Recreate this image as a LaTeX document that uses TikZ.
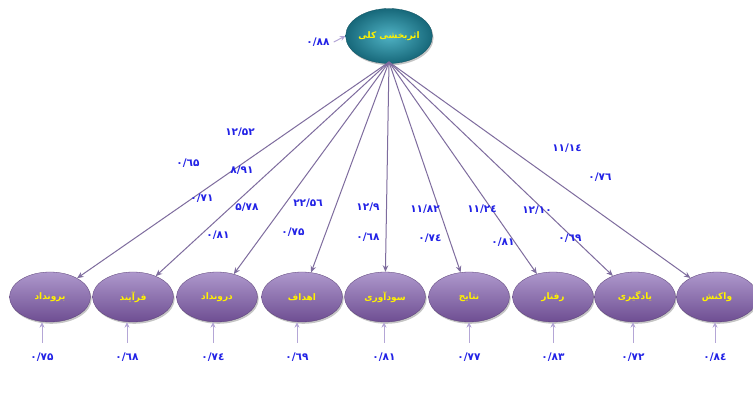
\documentclass[tikz,border=0pt]{standalone}
\usepackage{fontspec}
\TeXXeTstate=1
\newfontfamily\arabicfont[Script=Arabic]{DejaVu Sans}
\newfontfamily\digitfont{DejaVu Sans}
\usetikzlibrary{shapes.geometric,shadows,arrows.meta}
\definecolor{lineC}{HTML}{7E6C9E}
\definecolor{errC}{HTML}{B4A6D6}
\definecolor{numC}{HTML}{2222E6}
\definecolor{purTop}{HTML}{AE98CC}
\definecolor{purBot}{HTML}{6E4E92}
\definecolor{tealIn}{HTML}{4FB2C4}
\definecolor{tealOut}{HTML}{17687A}
\tikzset{
  latent/.style={ellipse, minimum width=81pt, minimum height=50pt, inner sep=0pt,
    top color=purTop, bottom color=purBot, draw=purBot!80!black, line width=0.3pt,
    drop shadow={shadow xshift=1.2pt, shadow yshift=-1.8pt, opacity=0.45},
    font=\arabicfont\bfseries\fontsize{9}{10}\selectfont, text=yellow},
  toplat/.style={ellipse, minimum width=80pt, minimum height=55pt, inner sep=0pt,
    inner color=tealIn, outer color=tealOut, draw=tealOut!80!black, line width=0.3pt,
    drop shadow={shadow xshift=1.2pt, shadow yshift=-1.8pt, opacity=0.45},
    font=\arabicfont\bfseries\fontsize{9}{10}\selectfont, text=yellow},
  num/.style={font=\digitfont\bfseries\fontsize{10.5}{11}\selectfont, text=numC, inner sep=0pt},
  path/.style={draw=lineC, line width=1pt, -{Stealth[length=6.5pt,width=5.5pt]}},
  err/.style={draw=errC, line width=1pt, -{Stealth[length=5.5pt,width=5pt]}}
}
\begin{document}
\begin{tikzpicture}[x=1pt,y=-1pt]
\useasboundingbox (0,0) rectangle (753,403);
\fill[white] (0,0) rectangle (753,403);
% top latent
\node[toplat] (top) at (389,36) {\beginR اثربخشی کلی\endR};
\coordinate (topb) at (389,62);
% bottom latents
\node[latent] (n1) at (50,297) {\beginR برونداد\endR};
\node[latent] (n2) at (133,297) {\beginR فرآیند\endR};
\node[latent] (n3) at (217,297) {\beginR درونداد\endR};
\node[latent] (n4) at (302,297) {\beginR اهداف\endR};
\node[latent] (n5) at (385,297) {\beginR سودآوری\endR};
\node[latent] (n6) at (469,297) {\beginR نتایج\endR};
\node[latent] (n7) at (553,297) {\beginR رفتار\endR};
\node[latent] (n8) at (635,297) {\beginR یادگیری\endR};
\node[latent] (n9) at (717,297) {\beginR واکنش\endR};
% paths
\foreach \n in {n1,n2,n3,n4,n5,n6,n7,n8,n9}{\draw[path] (topb) -- (\n);}
% error on top
\node[num] (e0) at (318,42) {۰/۸۸};
\draw[err] (e0.east) ++(4pt,0) -- (top.west);
% path labels
\node[num] (p1a) at (240,132) {۱۲/۵۲};
\node[num] (p1b) at (188,163) {۰/٦۵};
\node[num] (p2a) at (242,170) {۸/۹۱};
\node[num] (p2b) at (202,198) {۰/۷۱};
\node[num] (p3a) at (247,207) {۵/۷۸};
\node[num] (p3b) at (218,235) {۰/۸۱};
\node[num] (p4a) at (308,203) {۲۲/۵٦};
\node[num] (p4b) at (293,232) {۰/۷۵};
\node[num] (p5a) at (368,207) {۱۲/۹};
\node[num] (p5b) at (368,237) {۰/٦۸};
\node[num] (p6a) at (425,209) {۱۱/۸۲};
\node[num] (p6b) at (430,238) {۰/۷٤};
\node[num] (p7a) at (482,209) {۱۱/۲٤};
\node[num] (p7b) at (503,242) {۰/۸۱};
\node[num] (p8a) at (537,210) {۱۲/۱۰};
\node[num] (p8b) at (570,238) {۰/٦۹};
\node[num] (p9a) at (567,148) {۱۱/۱٤};
\node[num] (p9b) at (600,177) {۰/۷٦};
% errors below
\foreach \i/\x/\t in {1/42/{۰/۷۵},2/127/{۰/٦۸},3/213/{۰/۷٤},4/297/{۰/٦۹},5/384/{۰/۸۱},6/469/{۰/۷۷},7/553/{۰/۸۳},8/633/{۰/۷۲},9/715/{۰/۸٤}}{
  \node[num] (d\i) at (\x,357) {\t};
  \coordinate (s\i) at (\x,343);
  \draw[err] (s\i) -- (s\i |- n\i.south);
}
\end{tikzpicture}
\end{document}
